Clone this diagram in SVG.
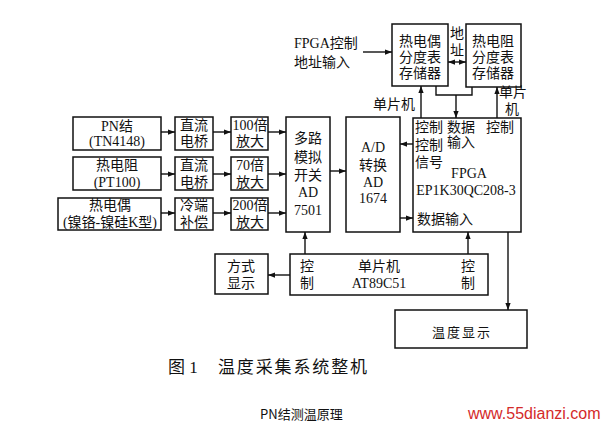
<svg xmlns="http://www.w3.org/2000/svg" width="603" height="428" viewBox="0 0 603 428">
<style>
.b{fill:#fff;stroke:#111;stroke-width:1.5}
.t{font-family:"Liberation Serif","Noto Sans CJK SC",serif;font-size:14px;fill:#111;text-anchor:middle;dominant-baseline:central}
.l{text-anchor:start}
.c{fill:none;stroke:#111;stroke-width:1.4}
</style>
<defs>
<marker id="ah" viewBox="0 0 8 8" refX="8" refY="4" markerWidth="7" markerHeight="7" orient="auto-start-reverse" markerUnits="userSpaceOnUse"><path d="M0,1 L8,4 L0,7 z" fill="#111"/></marker>
</defs>
<rect width="603" height="428" fill="#fff"/>

<g id="fpga-addr-label">
<text class="t l" x="294" y="43">FPGA控制</text>
<text class="t l" x="294" y="62">地址输入</text>
</g>
<g id="mem-tc">
<rect class="b" x="392" y="24" width="56" height="62"/>
<text class="t" x="420" y="41">热电偶</text>
<text class="t" x="420" y="57">分度表</text>
<text class="t" x="420" y="73">存储器</text>
</g>
<g id="addr-label">
<text class="t" x="457" y="33">地</text>
<text class="t" x="457" y="50">址</text>
</g>
<g id="mem-rtd">
<rect class="b" x="466" y="24" width="55" height="63"/>
<text class="t" x="493" y="41">热电阻</text>
<text class="t" x="493" y="57">分度表</text>
<text class="t" x="493" y="73">存储器</text>
</g>
<g id="mcu-label-left"><text class="t" x="394" y="104">单片机</text></g>
<g id="mcu-label-right">
<text class="t" x="513" y="92">单片</text>
<text class="t" x="512" y="109">机</text>
</g>

<g id="pn">
<rect class="b" x="73" y="117" width="88" height="33"/>
<text class="t" x="117" y="126">PN结</text>
<text class="t" x="117" y="141">(TN4148)</text>
</g>
<g id="bridge1">
<rect class="b" x="175" y="117" width="38" height="33"/>
<text class="t" x="194" y="125">直流</text>
<text class="t" x="194" y="141">电桥</text>
</g>
<g id="amp100">
<rect class="b" x="231" y="117" width="37" height="33"/>
<text class="t" x="250" y="125">100倍</text>
<text class="t" x="250" y="141">放大</text>
</g>
<g id="rtd">
<rect class="b" x="73" y="157" width="88" height="33"/>
<text class="t" x="117" y="165">热电阻</text>
<text class="t" x="117" y="182">(PT100)</text>
</g>
<g id="bridge2">
<rect class="b" x="175" y="157" width="38" height="33"/>
<text class="t" x="194" y="165">直流</text>
<text class="t" x="194" y="182">电桥</text>
</g>
<g id="amp70">
<rect class="b" x="231" y="157" width="37" height="33"/>
<text class="t" x="250" y="165">70倍</text>
<text class="t" x="250" y="182">放大</text>
</g>
<g id="tc">
<rect class="b" x="58" y="198" width="103" height="32"/>
<text class="t" x="110" y="205">热电偶</text>
<text class="t" x="110" y="222">(镍铬-镍硅K型)</text>
</g>
<g id="coldjunction">
<rect class="b" x="175" y="198" width="38" height="32"/>
<text class="t" x="194" y="205">冷端</text>
<text class="t" x="194" y="222">补偿</text>
</g>
<g id="amp200">
<rect class="b" x="231" y="198" width="37" height="32"/>
<text class="t" x="250" y="205">200倍</text>
<text class="t" x="250" y="222">放大</text>
</g>

<g id="mux">
<rect class="b" x="286" y="117" width="44" height="115"/>
<text class="t" x="308" y="138">多路</text>
<text class="t" x="308" y="157">模拟</text>
<text class="t" x="308" y="175">开关</text>
<text class="t" x="308" y="192">AD</text>
<text class="t" x="308" y="210">7501</text>
</g>
<g id="adc">
<rect class="b" x="346" y="117" width="54" height="115"/>
<text class="t" x="373" y="147">A/D</text>
<text class="t" x="373" y="165">转换</text>
<text class="t" x="373" y="182">AD</text>
<text class="t" x="373" y="198">1674</text>
</g>
<g id="fpga">
<rect class="b" x="413" y="118" width="108" height="114"/>
<text class="t l" x="415" y="127">控制</text>
<text class="t l" x="447" y="127">数据</text>
<text class="t l" x="486" y="127">控制</text>
<text class="t l" x="415" y="145">控制</text>
<text class="t l" x="447" y="142">输入</text>
<text class="t l" x="415" y="162">信号</text>
<text class="t" x="469" y="173">FPGA</text>
<text class="t" x="466" y="190">EP1K30QC208-3</text>
<text class="t l" x="417" y="219">数据输入</text>
</g>

<g id="mode-display">
<rect class="b" x="215" y="254" width="53" height="40"/>
<text class="t" x="241" y="266">方式</text>
<text class="t" x="241" y="283">显示</text>
</g>
<g id="mcu">
<rect class="b" x="290" y="254" width="198" height="41"/>
<text class="t" x="307" y="266">控</text>
<text class="t" x="307" y="283">制</text>
<text class="t" x="379" y="266">单片机</text>
<text class="t" x="379" y="283">AT89C51</text>
<text class="t" x="468" y="266">控</text>
<text class="t" x="468" y="283">制</text>
</g>
<g id="temp-display">
<rect class="b" x="395" y="310" width="132" height="38"/>
<text class="t" x="462" y="332" style="font-size:13px;letter-spacing:2px">温度显示</text>
</g>

<g id="connectors">
<line class="c" x1="363" y1="52" x2="392" y2="52" marker-end="url(#ah)"/>
<line class="c" x1="448" y1="62" x2="466" y2="62" marker-start="url(#ah)" marker-end="url(#ah)"/>
<line class="c" x1="421" y1="118" x2="421" y2="86" marker-end="url(#ah)"/>
<polyline class="c" points="436,86 436,95 472,95 472,87"/>
<line class="c" x1="456" y1="95" x2="456" y2="118" marker-end="url(#ah)"/>
<line class="c" x1="497" y1="118" x2="497" y2="87" marker-end="url(#ah)"/>
<line class="c" x1="161" y1="132" x2="175" y2="132" marker-end="url(#ah)"/>
<line class="c" x1="213" y1="132" x2="231" y2="132" marker-end="url(#ah)"/>
<line class="c" x1="268" y1="132" x2="286" y2="132" marker-end="url(#ah)"/>
<line class="c" x1="161" y1="174" x2="175" y2="174" marker-end="url(#ah)"/>
<line class="c" x1="213" y1="174" x2="231" y2="174" marker-end="url(#ah)"/>
<line class="c" x1="268" y1="174" x2="286" y2="174" marker-end="url(#ah)"/>
<line class="c" x1="161" y1="213" x2="175" y2="213" marker-end="url(#ah)"/>
<line class="c" x1="213" y1="213" x2="231" y2="213" marker-end="url(#ah)"/>
<line class="c" x1="268" y1="213" x2="286" y2="213" marker-end="url(#ah)"/>
<line class="c" x1="330" y1="171" x2="346" y2="171" marker-end="url(#ah)"/>
<line class="c" x1="413" y1="144" x2="400" y2="144" marker-end="url(#ah)"/>
<line class="c" x1="400" y1="218" x2="413" y2="218" marker-end="url(#ah)"/>
<line class="c" x1="305" y1="254" x2="305" y2="232" marker-end="url(#ah)"/>
<line class="c" x1="468" y1="254" x2="468" y2="232" marker-end="url(#ah)"/>
<line class="c" x1="290" y1="275" x2="268" y2="275" marker-end="url(#ah)"/>
<line class="c" x1="508" y1="232" x2="508" y2="310" marker-end="url(#ah)"/>
</g>

<g id="captions">
<text class="t l" x="168" y="367" style="font-size:17px">图 1</text>
<text class="t l" x="218" y="367" style="font-size:17px" textLength="149" lengthAdjust="spacing">温度采集系统整机</text>
<text class="t l" x="260" y="413" style="font-family:'Noto Sans CJK SC',sans-serif;font-size:13px">PN结测温原理</text>
<text class="t l" x="468" y="413" style="font-family:'Liberation Sans',sans-serif;font-size:16px;fill:#d42a2a">www.55dianzi.com</text>
</g>
</svg>
